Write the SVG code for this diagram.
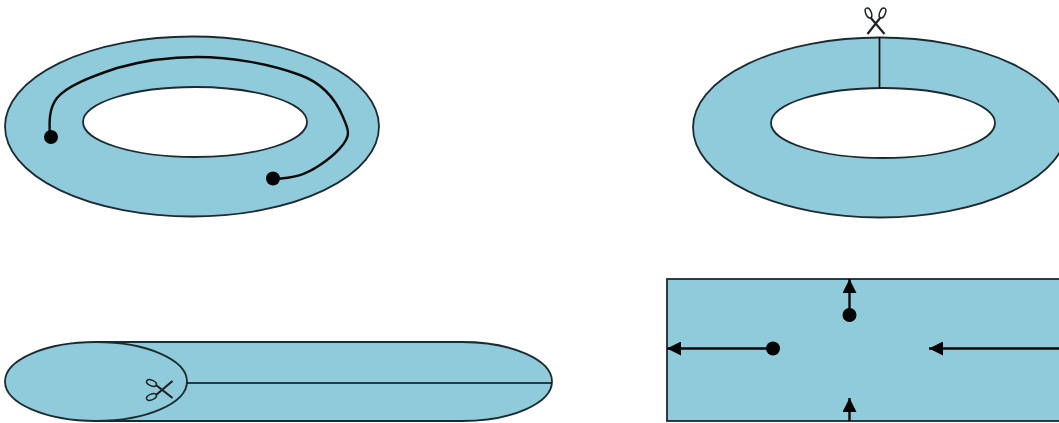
<svg xmlns="http://www.w3.org/2000/svg" width="1059" height="423" viewBox="0 0 1059 423">
<style>
.s{fill:#90cbdb;stroke:#1c2b30;stroke-width:1.8}
.l{fill:none;stroke:#0a0a0a;stroke-width:2.4}
.c{fill:none;stroke:#0a0a0a;stroke-width:1.7}
.a{fill:none;stroke:#0a0a0a;stroke-width:2.4;marker-end:url(#ar)}
.d{fill:#050505}
.b{fill:none;stroke:#1c2226;stroke-width:2.2}
.r{fill:none;stroke:#1c2226;stroke-width:1.5}
</style>
<defs>
<marker id="ar" markerUnits="userSpaceOnUse" markerWidth="14" markerHeight="14" refX="14" refY="7" viewBox="0 0 14 14" orient="auto"><path d="M0 0L14 7L0 14Z" fill="#050505"/></marker>
<g id="sc">
<path class="b" d="M-5 -6L9 10.500M5 -6L-8 10.500"/>
<ellipse class="r" cx="-7" cy="-10.500" rx="2.800" ry="5.200" transform="rotate(-22 -7 -10.500)"/>
<ellipse class="r" cx="7" cy="-10.500" rx="2.800" ry="5.200" transform="rotate(22 7 -10.500)"/>
</g>
</defs>
<g id="torus-path">
<path class="s" fill-rule="evenodd" d="M5 126.500a187 90 0 1 0 374 0a187 90 0 1 0 -374 0ZM83 122a112 35 0 1 0 224 0a112 35 0 1 0 -224 0Z"/>
<path class="l" d="M50 136C49 122 49 108 57 98C67 86 90 77 117 68C145 60 170 57 197 57C232 57 270 64 300 75C322 83 335 98 343 117C346 124 348 128 348 133C348 142 335 155 320 165C305 175 295 178 273 179"/>
<circle class="d" cx="51" cy="137" r="7"/>
<circle class="d" cx="273" cy="178.500" r="7"/>
</g>
<g id="torus-cut">
<path class="s" fill-rule="evenodd" d="M693 127.500a187 90 0 1 0 374 0a187 90 0 1 0 -374 0ZM771 123a112 35 0 1 0 224 0a112 35 0 1 0 -224 0Z"/>
<path class="c" d="M879.500 37V88"/>
<use href="#sc" transform="translate(875.500 23.500)"/>
</g>
<g id="tube">
<path class="s" d="M96 342H462C512 342 552 360 552 381.500C552 403 512 421 462 421H96Z"/>
<ellipse class="s" cx="96" cy="381.500" rx="91" ry="39.500"/>
<path class="c" d="M187 383H552"/>
<use href="#sc" transform="translate(162 390) rotate(-90)"/>
</g>
<g id="rect">
<rect class="s" x="667" y="279" width="400" height="142"/>
<path class="a" d="M773 348.500H667"/>
<circle class="d" cx="773" cy="348.500" r="7"/>
<path class="a" d="M1059 348.500H929"/>
<path class="a" d="M849.500 315V279"/>
<circle class="d" cx="849.500" cy="315" r="7"/>
<path class="a" d="M849.500 421V398"/>
</g>
</svg>
